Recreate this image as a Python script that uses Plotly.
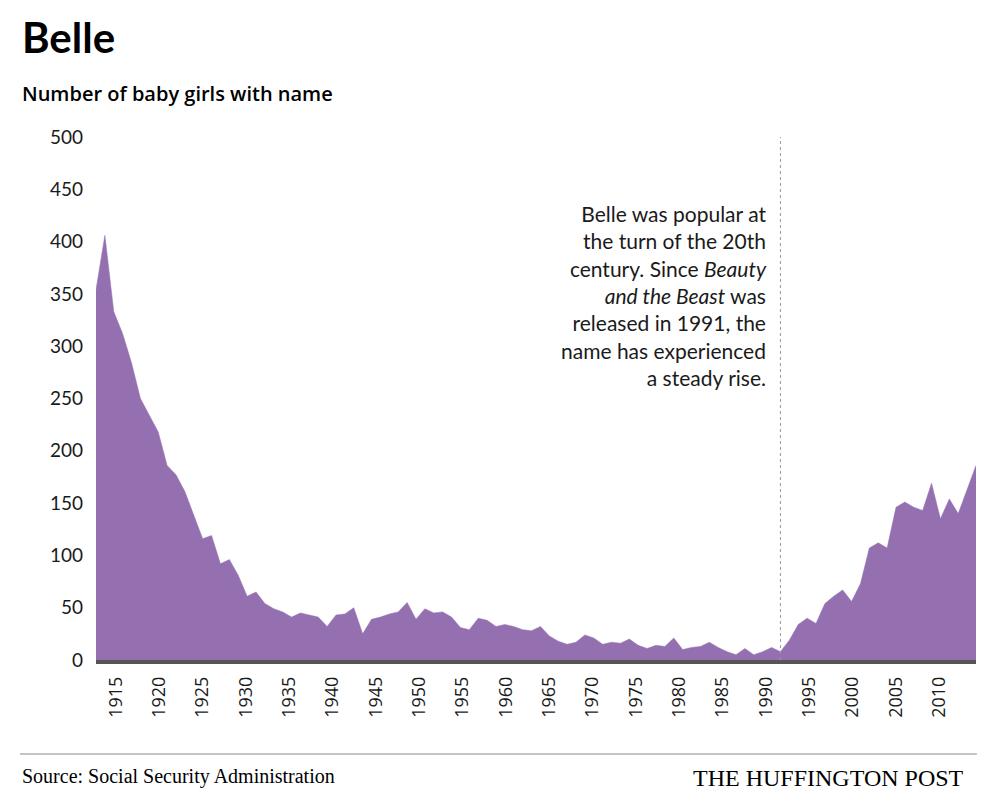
import plotly.graph_objects as go

years = list(range(1914, 2014))
counts = [
    354, 406, 333, 312, 284, 250, 234, 218, 186, 177,
    161, 139, 116, 119, 92, 96, 81, 61, 65, 54,
    49, 46, 41, 45, 43, 41, 32, 43, 44, 50,
    25, 39, 41, 44, 46, 55, 39, 49, 45, 46,
    41, 31, 29, 40, 38, 32, 34, 32, 29, 28,
    32, 23, 18, 15, 17, 24, 21, 15, 17, 16,
    20, 14, 11, 14, 13, 21, 10, 12, 13, 17,
    12, 8, 5, 11, 5, 8, 12, 8, 19, 34,
    40, 35, 54, 61, 67, 56, 73, 107, 112, 107,
    146, 151, 146, 143, 169, 135, 154, 140, 163, 186,
]
tick_years = list(range(1915, 2011, 5))
y_ticks = list(range(0, 501, 50))
release_year = 1991

title = "Belle"
subtitle = "Number of baby girls with name"
note = ("Belle was popular at<br>the turn of the 20th<br>century. Since <i>Beauty</i><br>"
        "<i>and the Beast</i> was<br>released in 1991, the<br>name has experienced<br>a steady rise.")
source = "Source: Social Security Administration"
brand = "THE HUFFINGTON POST"

SANS = "Lato, 'Noto Sans', sans-serif"
SANS2 = "'Open Sans', 'Noto Sans', sans-serif"
SERIF = "'Liberation Serif', serif"
TXT = "#1a1a1a"

fig = go.Figure()
fig.add_trace(go.Scatter(
    x=years, y=counts, mode="lines", fill="tozeroy",
    fillcolor="#9570b0", line=dict(color="#9570b0", width=0.5),
    hoverinfo="x+y", showlegend=False,
))
# invisible trace carrying the label axis
fig.add_trace(go.Scatter(x=[tick_years[0]], y=[0], xaxis="x2", mode="markers",
                         marker=dict(opacity=0), showlegend=False, hoverinfo="skip"))

fig.update_layout(
    width=998, height=811,
    margin=dict(l=96, r=22, t=137, b=151),
    paper_bgcolor="white", plot_bgcolor="white",
    xaxis=dict(range=[years[0], years[-1]], showgrid=False, zeroline=False,
               showticklabels=False, ticks="", showline=True,
               linecolor="#555555", linewidth=4, fixedrange=True),
    xaxis2=dict(overlaying="x", anchor="y", side="bottom",
                range=[1912.73, 2014.25], tickvals=tick_years,
                ticktext=[str(t) for t in tick_years], tickangle=-90,
                showgrid=False, zeroline=False, showline=False, ticks="",
                ticklabelstandoff=12,
                tickfont=dict(family=SANS2, size=18, color=TXT)),
    yaxis=dict(range=[0, 500], tickvals=y_ticks, showgrid=False, zeroline=False,
               showline=False, ticks="", ticklabelstandoff=12,
               tickfont=dict(family=SANS, size=19, color=TXT), fixedrange=True),
    shapes=[
        dict(type="line", xref="x", yref="y", x0=release_year, x1=release_year,
             y0=0, y1=500, line=dict(color="#9a9a9a", width=1, dash="3px,3px")),
        dict(type="line", xref="paper", yref="paper", x0=-0.0864, x1=1.001,
             y0=-0.1797, y1=-0.1797, line=dict(color="#b0b0b0", width=1.5)),
    ],
    annotations=[
        dict(text=f"<b>{title}</b>", xref="paper", yref="paper", x=-0.0864, y=1.1918,
             xanchor="left", yanchor="middle", showarrow=False,
             font=dict(family=SANS, size=42, color="#000")),
        dict(text=subtitle, xref="paper", yref="paper", x=-0.0864, y=1.0841,
             xanchor="left", yanchor="middle", showarrow=False,
             font=dict(family=SANS2, size=20, color="#000", weight=600)),
        dict(text=note, xref="x", yref="y", x=release_year, y=348, xshift=-11,
             xanchor="right", yanchor="middle", align="right", showarrow=False,
             font=dict(family=SANS, size=21, color=TXT)),
        dict(text=source, xref="paper", yref="paper", x=-0.0864, y=-0.2228,
             xanchor="left", yanchor="middle", showarrow=False,
             font=dict(family=SERIF, size=20, color="#000")),
        dict(text=brand, xref="paper", yref="paper", x=0.9886, y=-0.2247,
             xanchor="right", yanchor="middle", showarrow=False,
             font=dict(family=SERIF, size=24, color="#000")),
    ],
)

fig.write_html("out.html")
